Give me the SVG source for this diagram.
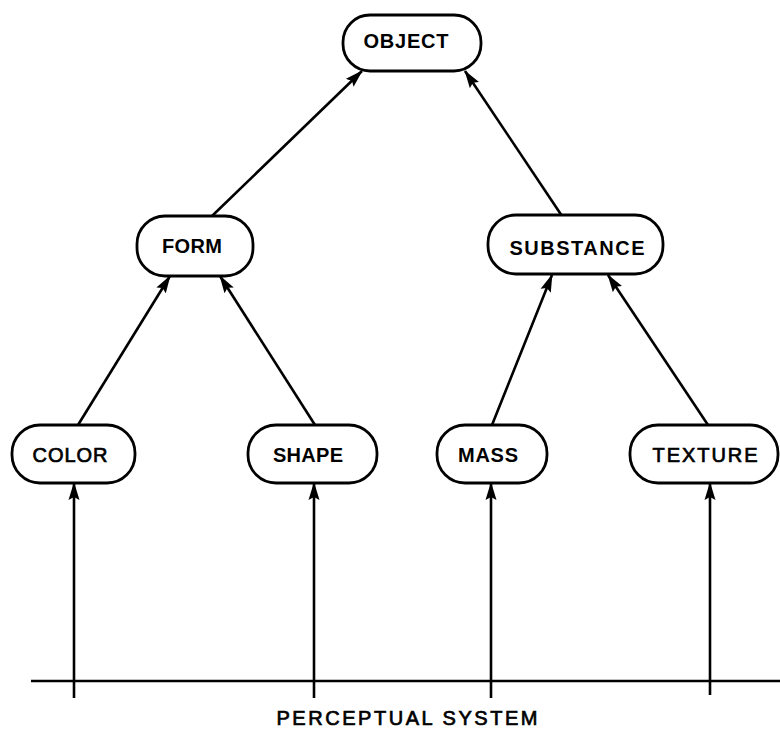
<svg xmlns="http://www.w3.org/2000/svg" width="780" height="729" viewBox="0 0 780 729">
<defs>
<style>
.box{fill:#fff;stroke:#000;stroke-width:2.8}
.lbl{font-family:"Liberation Sans",Arial,sans-serif;font-size:20px;font-weight:bold;fill:#000;text-anchor:middle}
.thin{font-weight:normal;stroke:#000;stroke-width:0.7}
.edge{stroke:#000;stroke-width:2.6;fill:none;marker-end:url(#ah)}
.base{stroke:#000;stroke-width:2.6;fill:none}
</style>
<marker id="ah" markerUnits="userSpaceOnUse" markerWidth="18" markerHeight="12" viewBox="0 0 18 12" refX="17" refY="6" orient="auto">
<path d="M0,0.5 L18,6 L0,11.5 L3,6 Z" fill="#000"/>
</marker>
</defs>
<rect width="780" height="729" fill="#fff"/>
<g id="connectors">
<line class="edge" x1="212" y1="216" x2="362" y2="71"/>
<line class="edge" x1="562" y1="216" x2="465" y2="71"/>
<line class="edge" x1="78" y1="425" x2="170" y2="276"/>
<line class="edge" x1="315" y1="425" x2="220" y2="276"/>
<line class="edge" x1="492" y1="425" x2="552" y2="275"/>
<line class="edge" x1="708" y1="425" x2="608" y2="275"/>
<line class="edge" x1="74" y1="698" x2="74" y2="483"/>
<line class="edge" x1="314" y1="698" x2="314" y2="483"/>
<line class="edge" x1="491" y1="698" x2="491" y2="483"/>
<line class="edge" x1="710" y1="695" x2="710" y2="483"/>
<line class="base" x1="31" y1="681" x2="780" y2="681"/>
</g>
<g id="object">
<rect class="box" x="343" y="15" width="138" height="56" rx="27" ry="27"/>
<text class="lbl" x="406" y="48" textLength="85" lengthAdjust="spacing">OBJECT</text>
</g>
<g id="form">
<rect class="box" x="137" y="216" width="116" height="60" rx="28" ry="28"/>
<text class="lbl" x="192" y="253" textLength="60" lengthAdjust="spacing">FORM</text>
</g>
<g id="substance">
<rect class="box" x="488" y="215" width="175" height="59" rx="28" ry="28"/>
<text class="lbl" x="577" y="255" textLength="135" lengthAdjust="spacing">SUBSTANCE</text>
</g>
<g id="color">
<rect class="box" x="12" y="425" width="123" height="58" rx="28" ry="28"/>
<text class="lbl thin" x="70" y="462" textLength="75" lengthAdjust="spacing">COLOR</text>
</g>
<g id="shape">
<rect class="box" x="248" y="425" width="129" height="58" rx="28" ry="28"/>
<text class="lbl" x="308" y="462" textLength="70" lengthAdjust="spacing">SHAPE</text>
</g>
<g id="mass">
<rect class="box" x="437" y="425" width="110" height="58" rx="28" ry="28"/>
<text class="lbl" x="488" y="462" textLength="60" lengthAdjust="spacing">MASS</text>
</g>
<g id="texture">
<rect class="box" x="630" y="425" width="148" height="58" rx="28" ry="28"/>
<text class="lbl thin" x="705" y="462" textLength="105" lengthAdjust="spacing">TEXTURE</text>
</g>
<g id="perceptual-system">
<text class="lbl thin" x="407" y="725" font-size="20" textLength="261" lengthAdjust="spacing">PERCEPTUAL SYSTEM</text>
</g>
</svg>
